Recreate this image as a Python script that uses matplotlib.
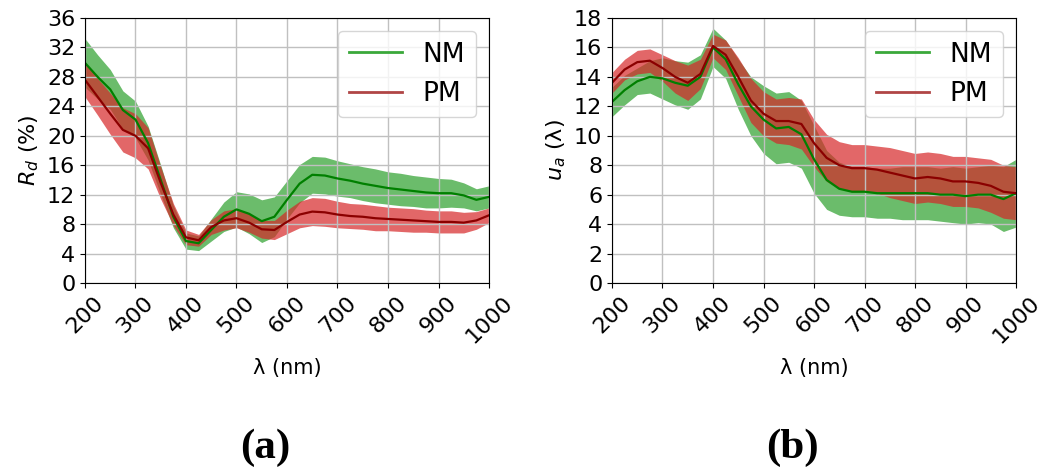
import numpy as np
import matplotlib.pyplot as plt
from matplotlib.lines import Line2D

# wavelength grid (nm)
wl = np.arange(200, 1001, 25)

# diffuse reflectance R_d (%) - mean and std
rd_nm = [29.9, 28.0, 26.3, 23.5, 22.2, 19.0, 14.0, 9.0, 5.7, 5.4, 7.2, 9.0, 10.0,
         9.4, 8.4, 9.0, 11.3, 13.5, 14.7, 14.6, 14.2, 13.9, 13.5, 13.2, 12.9,
         12.7, 12.5, 12.3, 12.2, 12.2, 11.9, 11.3, 11.7]
rd_nm_sd = [3.3, 3.0, 2.7, 2.6, 2.5, 2.3, 2.0, 1.5, 1.1, 1.0, 1.5, 2.0, 2.4,
            2.7, 2.9, 2.7, 2.6, 2.6, 2.5, 2.5, 2.4, 2.3, 2.3, 2.3, 2.2,
            2.2, 2.1, 2.1, 2.0, 1.9, 1.7, 1.5, 1.5]
rd_pm = [27.6, 25.3, 23.0, 20.8, 20.0, 18.3, 13.6, 9.3, 6.2, 5.8, 7.6, 8.5, 8.8,
         8.2, 7.3, 7.2, 8.3, 9.3, 9.7, 9.6, 9.3, 9.1, 9.0, 8.8, 8.7,
         8.6, 8.5, 8.4, 8.3, 8.3, 8.2, 8.5, 9.2]
rd_pm_sd = [2.3, 2.5, 2.8, 3.0, 3.0, 2.8, 2.2, 1.5, 1.0, 0.8, 1.0, 1.3, 1.3,
            1.3, 1.2, 1.3, 1.6, 1.8, 1.9, 1.9, 1.8, 1.7, 1.7, 1.7, 1.6,
            1.6, 1.6, 1.5, 1.5, 1.5, 1.4, 1.2, 1.0]

# absorption u_a - mean and std
ua_nm = [12.3, 13.1, 13.7, 14.0, 13.9, 13.6, 13.4, 14.0, 16.0, 15.2, 13.5, 12.0,
         11.1, 10.5, 10.6, 10.1, 8.4, 7.0, 6.4, 6.2, 6.2, 6.1, 6.1, 6.1, 6.1,
         6.1, 6.0, 6.0, 5.9, 6.0, 6.0, 5.7, 6.1]
ua_nm_sd = [1.0, 1.0, 0.9, 1.1, 1.4, 1.5, 1.6, 1.5, 1.3, 1.3, 1.7, 2.0, 2.3,
            2.4, 2.4, 2.3, 2.3, 2.0, 1.8, 1.7, 1.7, 1.7, 1.7, 1.8, 1.8,
            1.8, 1.8, 1.9, 1.9, 1.9, 2.0, 2.2, 2.3]
ua_pm = [13.6, 14.5, 15.0, 15.1, 14.6, 14.0, 13.6, 14.2, 16.1, 15.5, 14.0, 12.4,
         11.5, 11.0, 11.0, 10.8, 9.5, 8.5, 8.0, 7.8, 7.8, 7.7, 7.5, 7.3, 7.1,
         7.2, 7.1, 6.9, 6.9, 6.8, 6.6, 6.2, 6.1]
ua_pm_sd = [0.7, 0.7, 0.8, 0.8, 0.9, 1.1, 1.2, 1.0, 0.8, 1.0, 1.3, 1.5, 1.5,
            1.5, 1.6, 1.7, 1.6, 1.6, 1.6, 1.6, 1.6, 1.6, 1.7, 1.7, 1.7,
            1.7, 1.7, 1.7, 1.7, 1.7, 1.8, 1.8, 1.8]

fig = plt.figure(figsize=(10.44, 4.72), dpi=100)
ax1 = fig.add_axes([0.0814, 0.4004, 0.387, 0.5615])
ax2 = fig.add_axes([0.5862, 0.4004, 0.387, 0.5615])


def draw(ax, nm, nm_sd, pm, pm_sd):
    nm, nm_sd, pm, pm_sd = map(np.array, (nm, nm_sd, pm, pm_sd))
    ax.fill_between(wl, nm - nm_sd, nm + nm_sd, color='#2ca02c', alpha=0.7, lw=0)
    ax.fill_between(wl, pm - pm_sd, pm + pm_sd, color='#d62728', alpha=0.7, lw=0)
    ax.plot(wl, nm, color='green', lw=1.6)
    ax.plot(wl, pm, color='#8b0000', lw=1.6)
    ax.set_xlim(200, 1000)
    ax.set_xticks(np.arange(200, 1001, 100))
    ax.tick_params(labelsize=16)
    plt.setp(ax.get_xticklabels(), rotation=45)
    ax.grid(True, color='#c0c0c0', lw=1)
    ax.set_xlabel('λ (nm)', fontsize=15, labelpad=8)
    handles = [Line2D([], [], color='#3aa83a', lw=2),
               Line2D([], [], color='#b04545', lw=2)]
    ax.legend(handles, ['NM', 'PM'], loc='upper right', fontsize=19)


draw(ax1, rd_nm, rd_nm_sd, rd_pm, rd_pm_sd)
ax1.set_ylim(0, 36)
ax1.set_yticks(np.arange(0, 37, 4))
ax1.set_ylabel('$R_d$ (%)', fontsize=16)

draw(ax2, ua_nm, ua_nm_sd, ua_pm, ua_pm_sd)
ax2.set_ylim(0, 18)
ax2.set_yticks(np.arange(0, 19, 2))
ax2.set_ylabel('$u_a$ (λ)', fontsize=16)

fig.text(0.254, 0.03, '(a)', ha='center', fontsize=31, fontweight='bold',
         family='Liberation Serif')
fig.text(0.759, 0.03, '(b)', ha='center', fontsize=31, fontweight='bold',
         family='Liberation Serif')

fig.savefig('out.png', dpi=100)
